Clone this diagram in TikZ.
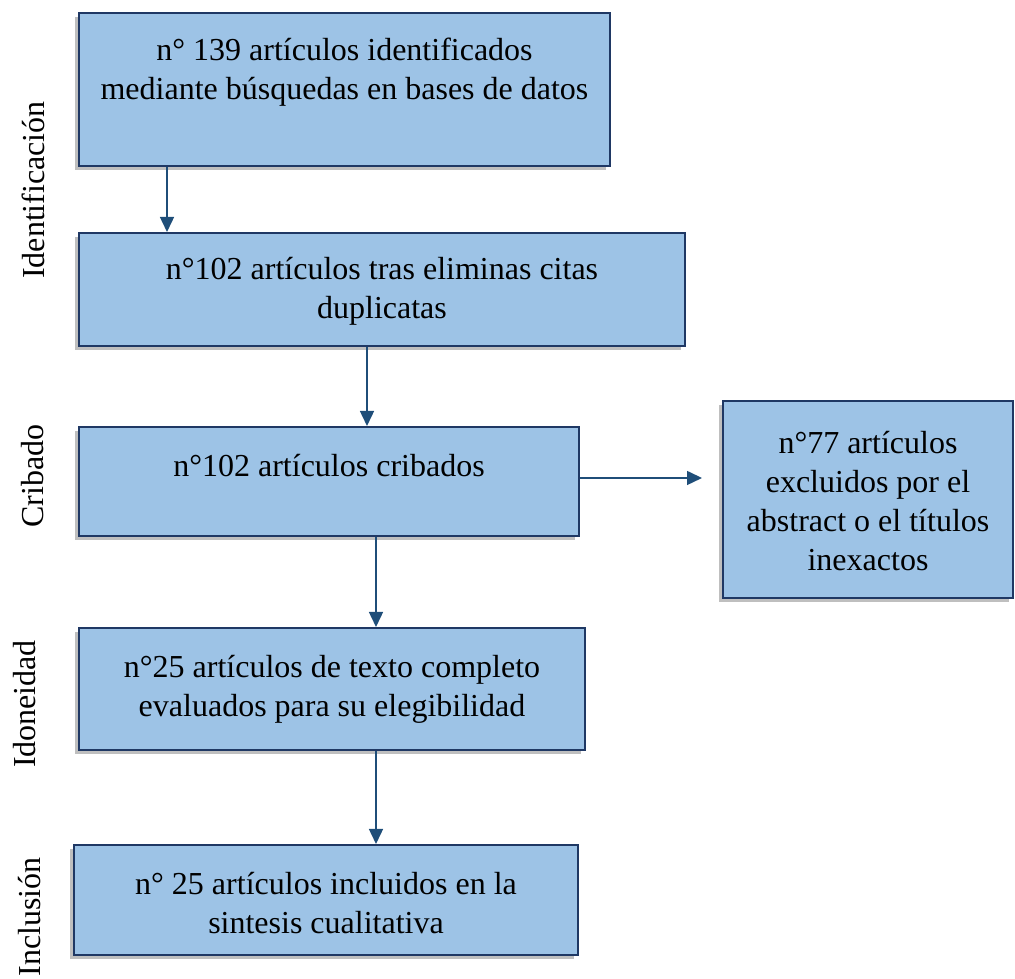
\documentclass[tikz,border=0pt]{standalone}
\usepackage{fontspec}
\setmainfont{Liberation Serif}
\usetikzlibrary{arrows.meta,shadows}
\definecolor{boxfill}{HTML}{9DC3E6}
\definecolor{boxline}{HTML}{1F3864}
\definecolor{arrcol}{HTML}{1F4E79}
\begin{document}
\begin{tikzpicture}[x=1pt,y=1pt,
  box/.style={draw=boxline, line width=2pt, fill=boxfill, inner sep=0pt,
    drop shadow={shadow xshift=-4pt, shadow yshift=-4pt, fill=black, opacity=0.25}},
  txt/.style={align=center, font=\fontsize{32}{39}\selectfont, inner sep=0pt},
  side/.style={rotate=90, font=\fontsize{32}{39}\selectfont, inner sep=0pt},
  arr/.style={draw=arrcol, line width=1.5pt, -{Triangle[length=15pt,width=14pt]}, fill=arrcol}
]
\useasboundingbox (0,0) rectangle (1015,979);

% boxes
\node[box, minimum width=531pt, minimum height=153pt] (b1) at (344.5,889.5) {};
\node[box, minimum width=606pt, minimum height=113pt] (b2) at (382,689.5) {};
\node[box, minimum width=500pt, minimum height=109pt] (b3) at (329,497.5) {};
\node[box, minimum width=290pt, minimum height=197pt] (b6) at (868,479.5) {};
\node[box, minimum width=506pt, minimum height=122pt] (b4) at (332,290) {};
\node[box, minimum width=504pt, minimum height=110pt] (b5) at (326,79) {};

% texts
\node[txt] (t1) at ([yshift=17.5pt]b1.center) {n° 139 artículos identificados\\mediante búsquedas en bases de datos};
\node[txt] (t2) at ([yshift=-2pt]b2.center) {n°102 artículos tras eliminas citas\\duplicatas};
\node[txt] (t3) at ([yshift=15.5pt]b3.center) {n°102 artículos cribados};
\node[txt] (t6) at ([yshift=-1.5pt]b6.center) {n°77 artículos\\excluidos por el\\abstract o el títulos\\inexactos};
\node[txt] (t4) at (b4.center) {n°25 artículos de texto completo\\evaluados para su elegibilidad};
\node[txt] (t5) at ([yshift=-3.5pt]b5.center) {n° 25 artículos incluidos en la\\sintesis cualitativa};

% side labels
\node[side] (s1) at (33,789) {Identificación};
\node[side] (s2) at (33,503) {Cribado};
\node[side] (s3) at (25,275) {Idoneidad};
\node[side] (s4) at (30,62) {Inclusión};

% arrows
\draw[arr] ([xshift=89pt]b1.south west) -- ([xshift=89pt]b2.north west);
\draw[arr] ([xshift=289pt]b2.south west) -- ([xshift=289pt]b3.north west);
\draw[arr] ([xshift=298pt]b3.south west) -- ([xshift=298pt]b4.north west);
\draw[arr] ([xshift=298pt]b4.south west) -- ([xshift=303pt]b5.north west);
\draw[arr] ([yshift=3.5pt]b3.east) -- ([xshift=-20pt,yshift=21.5pt]b6.west);
\end{tikzpicture}
\end{document}
